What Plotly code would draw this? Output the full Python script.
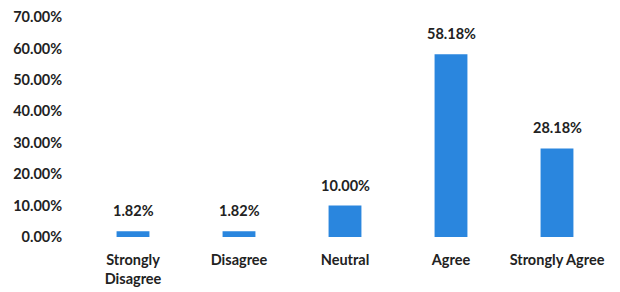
import plotly.graph_objects as go

categories = ["Strongly<br>Disagree", "Disagree", "Neutral", "Agree", "Strongly Agree"]
values = [1.82, 1.82, 10.00, 58.18, 28.18]
tick_vals = [0, 10, 20, 30, 40, 50, 60, 70]
tick_text = ["0.00%", "10.00%", "20.00%", "30.00%", "40.00%", "50.00%", "60.00%", "70.00%"]

font = dict(family="Lato, 'Open Sans', sans-serif", size=14.5, color="#222222")

fig = go.Figure(go.Bar(
    x=categories, y=values,
    marker=dict(color="#2A86DE", line=dict(width=0)),
    width=0.31,
))

for c, v in zip(categories, values):
    fig.add_annotation(x=c, y=v, text=f"<b>{v:.2f}%</b>", showarrow=False,
                       yanchor="bottom", yshift=10, font=font)

fig.update_layout(
    width=620, height=292,
    margin=dict(l=72, r=18, t=9, b=63),
    paper_bgcolor="white", plot_bgcolor="white",
    showlegend=False,
    font=font,
)
fig.update_yaxes(range=[0, 70], tickvals=tick_vals,
                 ticktext=[f"<b>{t}</b>" for t in tick_text],
                 showgrid=False, zeroline=False, showline=False,
                 ticklabeloverflow="allow", automargin=False,
                 ticks="outside", ticklen=14, tickcolor="rgba(0,0,0,0)")
fig.update_xaxes(tickvals=categories, ticktext=[f"<b>{c}</b>" for c in categories],
                 showgrid=False, showline=False, zeroline=False, automargin=False,
                 ticks="outside", ticklen=10, tickcolor="rgba(0,0,0,0)")

fig.write_html("out.html")
